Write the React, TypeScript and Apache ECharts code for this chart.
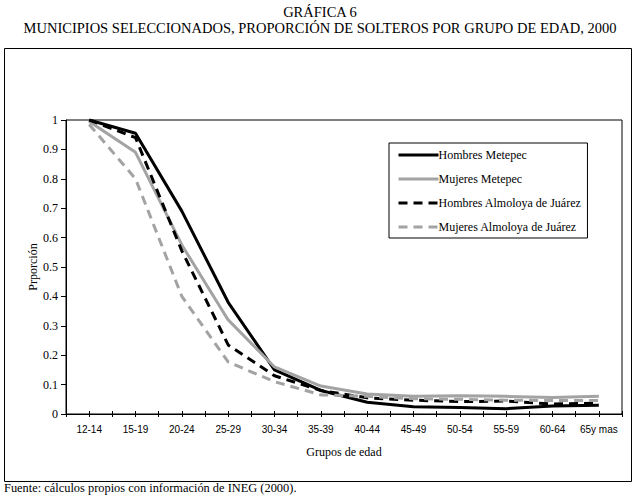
import React, { useEffect, useRef } from "react";
import * as echarts from "echarts";

const categories = ["12-14", "15-19", "20-24", "25-29", "30-34", "35-39", "40-44", "45-49", "50-54", "55-59", "60-64", "65y mas"];
const hombresMetepec = [1.0, 0.955, 0.69, 0.38, 0.15, 0.08, 0.04, 0.025, 0.022, 0.018, 0.027, 0.03];
const mujeresMetepec = [0.995, 0.89, 0.575, 0.32, 0.16, 0.095, 0.068, 0.06, 0.062, 0.06, 0.056, 0.06];
const hombresAlmoloya = [1.0, 0.94, 0.555, 0.235, 0.13, 0.08, 0.055, 0.047, 0.042, 0.044, 0.034, 0.037];
const mujeresAlmoloya = [0.985, 0.8, 0.4, 0.177, 0.11, 0.065, 0.06, 0.052, 0.05, 0.047, 0.046, 0.046];
const seriesNames = ["Hombres Metepec", "Mujeres Metepec", "Hombres Almoloya de Juárez", "Mujeres Almoloya de Juárez"];

const SERIF = "'Liberation Serif', 'Times New Roman', serif";
const SANS = "'Liberation Sans', Arial, sans-serif";
const GRAY = "#a3a3a3";

export default function App() {
  const ref = useRef<HTMLDivElement>(null);
  useEffect(() => {
    const chart = echarts.init(ref.current!, null, { renderer: "svg" });
    const tickAxis = (align: boolean, inside: boolean, main: boolean) => ({
      type: "category",
      data: categories,
      boundaryGap: true,
      position: "bottom",
      axisLine: { show: main, lineStyle: { color: "#000", width: 1 } },
      axisTick: { show: true, alignWithLabel: align, inside, length: 3, interval: 0, lineStyle: { color: "#000" } },
      axisLabel: main
        ? { show: true, interval: 0, margin: 10, fontFamily: SANS, fontSize: 10, color: "#000" }
        : { show: false },
      splitLine: { show: false },
      name: main ? "Grupos de edad" : "",
      nameLocation: "middle",
      nameGap: 32,
      nameMoveOverlap: false,
      nameTextStyle: { fontFamily: SERIF, fontSize: 12, color: "#000" },
    });
    const line = (name: string, data: number[], color: string, dashed: boolean) => ({
      name,
      type: "line",
      data,
      xAxisIndex: 0,
      symbol: "none",
      lineStyle: { color, width: 3, type: dashed ? [9, 6] : "solid" },
      itemStyle: { color },
    });
    chart.setOption({
      animation: false,
      backgroundColor: "#fff",
      graphic: [
        { type: "rect", shape: { x: 4.5, y: 48.5, width: 627, height: 433 }, style: { fill: "none", stroke: "#000", lineWidth: 1 } },
        { type: "text", x: 320, y: 12, style: { text: "GRÁFICA 6", font: `14.5px ${SERIF}`, fill: "#000", textAlign: "center", textVerticalAlign: "middle" } },
        { type: "text", x: 320, y: 28, style: { text: "MUNICIPIOS SELECCIONADOS, PROPORCIÓN DE SOLTEROS POR GRUPO DE EDAD, 2000", font: `14.5px ${SERIF}`, fill: "#000", textAlign: "center", textVerticalAlign: "middle" } },
        { type: "text", x: 4, y: 488, style: { text: "Fuente: cálculos propios con información de INEG (2000).", font: `12.4px ${SERIF}`, fill: "#000", textAlign: "left", textVerticalAlign: "middle" } },
      ],
      grid: { left: 66, right: 16, top: 120, bottom: 83, show: true, borderColor: "#000", borderWidth: 1, backgroundColor: "transparent" },
      legend: {
        orient: "vertical",
        left: 389,
        top: 143,
        width: 194,
        itemWidth: 40,
        itemHeight: 10,
        itemGap: 12,
        padding: [6, 6, 5, 8],
        borderColor: "#000",
        borderWidth: 1,
        backgroundColor: "#fff",
        itemStyle: { opacity: 0 },
        lineStyle: { width: 3 },
        textStyle: { fontFamily: SERIF, fontSize: 12, color: "#000", padding: [0, 0, 0, -5] },
        data: seriesNames,
      },
      xAxis: [
        tickAxis(false, false, true),
        tickAxis(false, true, false),
        tickAxis(true, false, false),
        tickAxis(true, true, false),
      ],
      yAxis: {
        type: "value",
        min: 0,
        max: 1,
        interval: 0.1,
        axisLine: { show: true, lineStyle: { color: "#000" } },
        axisTick: { show: true, length: 5, lineStyle: { color: "#000" } },
        axisLabel: { fontFamily: SERIF, fontSize: 12, color: "#000", margin: 8 },
        splitLine: { show: false },
        name: "Prporción",
        nameLocation: "middle",
        nameGap: 27,
        nameMoveOverlap: false,
        nameTextStyle: { fontFamily: SERIF, fontSize: 12, color: "#000" },
      },
      series: [
        line(seriesNames[0], hombresMetepec, "#000", false),
        line(seriesNames[1], mujeresMetepec, GRAY, false),
        line(seriesNames[2], hombresAlmoloya, "#000", true),
        line(seriesNames[3], mujeresAlmoloya, GRAY, true),
      ],
    });
    return () => chart.dispose();
  }, []);
  return <div ref={ref} style={{ position: "fixed", left: 0, top: 0, width: 638, height: 497 }} />;
}
